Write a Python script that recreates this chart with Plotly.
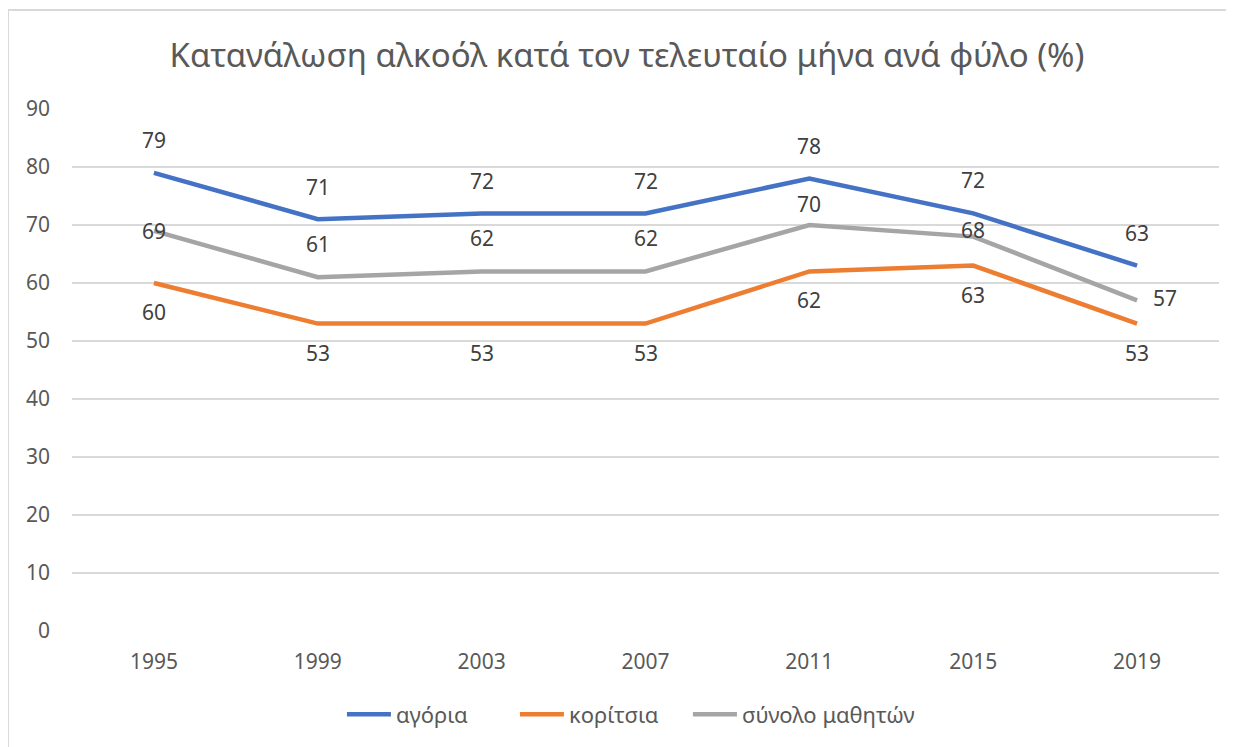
import plotly.graph_objects as go

# chart data
years = ["1995", "1999", "2003", "2007", "2011", "2015", "2019"]
boys = [79, 71, 72, 72, 78, 72, 63]
girls = [60, 53, 53, 53, 62, 63, 53]
total = [69, 61, 62, 62, 70, 68, 57]

series_names = ["αγόρια", "κορίτσια", "σύνολο μαθητών"]
colors = ["#4472C4", "#ED7D31", "#A5A5A5"]

# label offsets (px) per point, mimicking Excel's placement
label_dy = [
    [33, 32, 32, 32, 33, 33, 33],
    [-29, -29, -29, -29, -29, -29, -29],
    [0, 33, 33, 33, 21, 7, 2],
]
label_dx = [
    [0] * 7,
    [0] * 7,
    [0, 0, 0, 0, 0, 0, 28],
]

FONT = "Noto Sans"
fig = go.Figure()

for name, vals, col, dys, dxs in zip(series_names, [boys, girls, total], colors, label_dy, label_dx):
    fig.add_trace(go.Scatter(
        x=years, y=vals, name=name, mode="lines",
        line=dict(color=col, width=4.5),
    ))
    # category axis: annotations take the category index
    for i, (yv, dy, dx) in enumerate(zip(vals, dys, dxs)):
        fig.add_annotation(
            x=i, y=yv, text=str(yv), showarrow=False,
            yshift=dy, xshift=dx,
            font=dict(family=FONT, size=21, color="#404040"),
        )

# empty legend spacer so the last (long) entry isn't clipped
fig.add_trace(go.Scatter(
    x=[None], y=[None], name=" ", mode="lines",
    line=dict(color="rgba(0,0,0,0)", width=0), hoverinfo="skip",
))

# chart frame (top and left edge only visible)
fig.add_shape(type="line", xref="paper", yref="paper",
              x0=-0.0558, x1=1.03, y0=1.1897, y1=1.1897,
              line=dict(color="#D9D9D9", width=2))
fig.add_shape(type="line", xref="paper", yref="paper",
              x0=-0.0558, x1=-0.0558, y0=1.1897, y1=-0.25,
              line=dict(color="#D9D9D9", width=2))

fig.update_layout(
    width=1234, height=747,
    margin=dict(l=64, r=23, t=101, b=124),
    paper_bgcolor="white", plot_bgcolor="white",
    title=dict(
        text="Κατανάλωση αλκοόλ κατά τον τελευταίο μήνα ανά φύλο (%)",
        x=0.5016, xref="container", xanchor="center",
        y=0.937, yref="container", yanchor="middle",
        font=dict(family=FONT, size=33, color="#595959"),
    ),
    xaxis=dict(
        type="category", range=[-0.5, 6.5], showgrid=False,
        showline=False, zeroline=False, ticks="",
        ticklabelstandoff=16,
        tickfont=dict(family=FONT, size=21, color="#595959"),
    ),
    yaxis=dict(
        range=[0, 90], dtick=10, showgrid=True, gridcolor="#D9D9D9", gridwidth=1.5,
        zeroline=False, showline=False, ticks="",
        ticklabelstandoff=21,
        tickfont=dict(family=FONT, size=21, color="#595959"),
    ),
    legend=dict(
        orientation="h", x=0.537, xanchor="center", y=-0.16, yanchor="middle",
        font=dict(family=FONT, size=22, color="#595959"),
        itemwidth=44, entrywidth=114,
    ),
    showlegend=True,
)

fig.write_html("out.html")
